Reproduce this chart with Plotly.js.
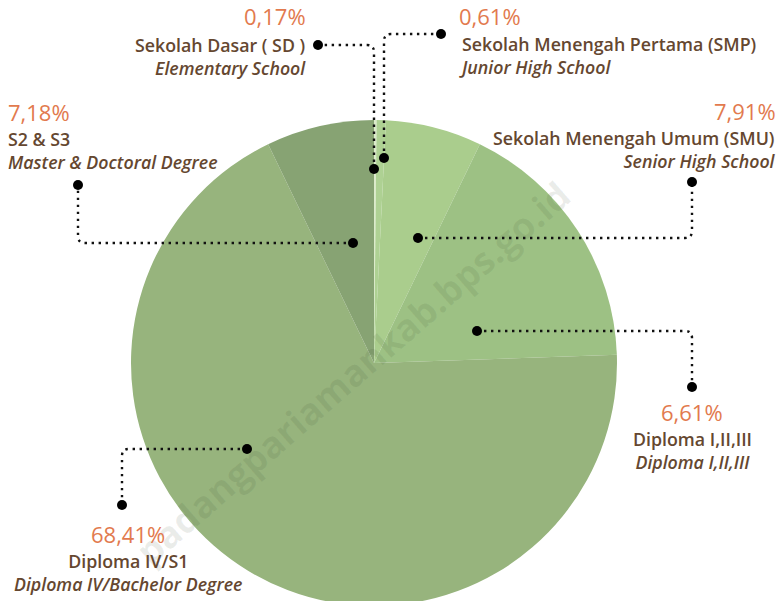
<!DOCTYPE html>
<html>
<head>
<meta charset="utf-8">
<script src="https://cdn.plot.ly/plotly-3.0.1.min.js"></script>
<style>
html,body{margin:0;padding:0;overflow:hidden;background:#fff;}
#chart{width:781px;height:606px;}
</style>
</head>
<body>
<div id="chart"></div>
<script>
// ---- data ----
const categories = ['Sekolah Dasar ( SD )', 'Sekolah Menengah Pertama (SMP)', 'Sekolah Menengah Umum (SMU)', 'Diploma I,II,III', 'Diploma IV/S1', 'S2 & S3'];
const englishLabels = ['Elementary School', 'Junior High School', 'Senior High School', 'Diploma I,II,III', 'Diploma IV/Bachelor Degree', 'Master & Doctoral Degree'];
const percentLabels = ['0,17%', '0,61%', '7,91%', '6,61%', '68,41%', '7,18%'];
// slice sizes as drawn in the picture (percent of the circle)
const sliceShares = [0.17, 0.61, 6.4, 17.3, 68.41, 7.18];
const sliceColors = ['#DCEBCB', '#AED193', '#AACD8D', '#9DC184', '#97B47D', '#87A373'];

// ---- layout helpers ----
const W = 781, H = 606;
const CX = 374, CY = 363, R = 243;
const px = (x) => x / W;
const py = (y) => 1 - y / H;

const ORANGE = '#E27A4E';
const BROWN = '#654730';
const FONT = 'Open Sans, sans-serif';

// label placement: [anchor, x, yPct, yName, yEn]
const labelPos = [
  ['right', 307, 17, 45, 66],
  ['left', 458, 17, 44, 64],
  ['right', 777, 112, 138, 159],
  ['center', 692, 413, 438, 460],
  ['center', 128, 535, 560, 583],
  ['left', 7, 113, 139, 160]
];

// leader lines in pixel space
const leaders = [
  [[374, 169], [374, 45], [318, 45]],
  [[384, 158], [384, 34], [441, 34]],
  [[418, 238], [692, 238], [692, 182]],
  [[477, 331], [692, 331], [692, 387]],
  [[247, 449], [122, 449], [122, 505]],
  [[353, 243], [78, 243], [78, 185]]
];

function roundedPath(pts) {
  const r = 7;
  const [a, b, c] = pts;
  const d1 = [Math.sign(b[0] - a[0]), Math.sign(b[1] - a[1])];
  const d2 = [Math.sign(c[0] - b[0]), Math.sign(c[1] - b[1])];
  const p1 = [b[0] - d1[0] * r, b[1] - d1[1] * r];
  const p2 = [b[0] + d2[0] * r, b[1] + d2[1] * r];
  const f = (p) => px(p[0]) + ',' + py(p[1]);
  return 'M' + f(a) + ' L' + f(p1) + ' Q' + f(b) + ' ' + f(p2) + ' L' + f(c);
}

const shapes = [];
const annotations = [];
leaders.forEach((pts) => {
  shapes.push({
    type: 'path', xref: 'paper', yref: 'paper', path: roundedPath(pts),
    line: {color: '#111', width: 2.4, dash: '2.4px,4.6px'}
  });
  [pts[0], pts[2]].forEach((p) => {
    const rr = 5;
    shapes.push({
      type: 'circle', xref: 'paper', yref: 'paper',
      x0: px(p[0] - rr), x1: px(p[0] + rr), y0: py(p[1] + rr), y1: py(p[1] - rr),
      fillcolor: '#000', line: {width: 0}
    });
  });
});

// faint watermark
annotations.push({
  xref: 'paper', yref: 'paper', x: px(352), y: py(372), showarrow: false,
  text: '<b>padangpariamankab.bps.go.id</b>', textangle: -41,
  font: {family: FONT, size: 37, color: 'rgba(40,60,30,0.09)'}
});

categories.forEach((name, i) => {
  const [anc, x, y1, y2, y3] = labelPos[i];
  annotations.push({xref: 'paper', yref: 'paper', x: px(x), y: py(y1 - 1), xanchor: anc, yanchor: 'middle',
    showarrow: false, borderpad: 0, text: percentLabels[i], font: {family: FONT, size: 22, color: ORANGE}});
  annotations.push({xref: 'paper', yref: 'paper', x: px(x), y: py((y2 + y3) / 2 + 1), xanchor: anc, yanchor: 'middle',
    align: anc, showarrow: false, borderpad: 0,
    text: name + '<br><i>' + englishLabels[i] + '</i>',
    font: {family: FONT, size: 17.8, weight: 600, color: BROWN}});
});

const trace = {
  type: 'pie',
  labels: categories,
  values: sliceShares,
  sort: false,
  direction: 'clockwise',
  rotation: 0,
  textinfo: 'none',
  hoverinfo: 'none',
  marker: {colors: sliceColors, line: {width: 0}},
  domain: {x: [px(CX - R), px(CX + R)], y: [py(CY + R), py(CY - R)]},
  showlegend: false
};

const layout = {
  width: W, height: H,
  margin: {l: 0, r: 0, t: 0, b: 0},
  paper_bgcolor: '#fff',
  showlegend: false,
  shapes: shapes,
  annotations: annotations
};

Plotly.newPlot('chart', [trace], layout, {staticPlot: true, displayModeBar: false});
</script>
</body>
</html>
